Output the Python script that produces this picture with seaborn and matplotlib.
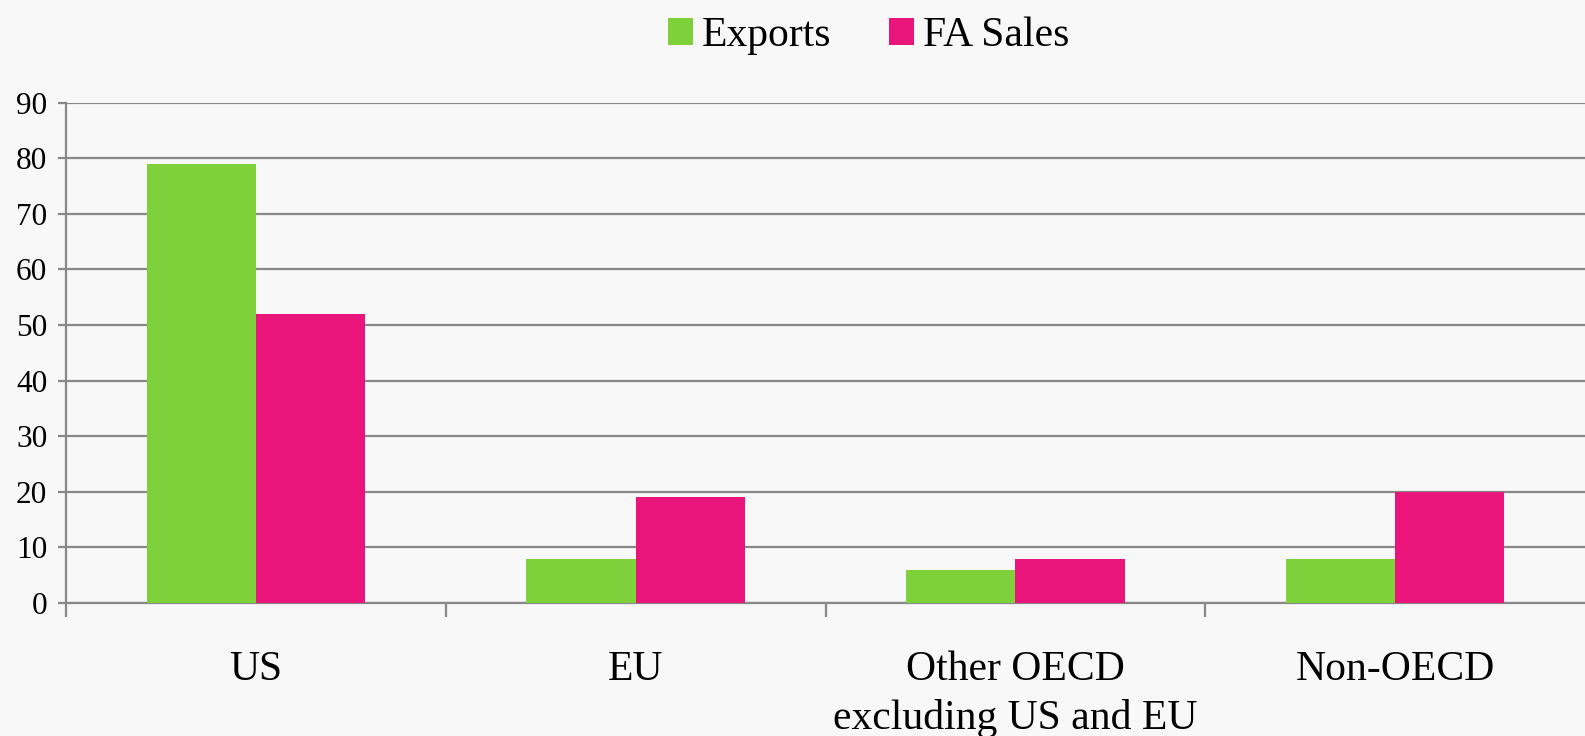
import matplotlib
matplotlib.use("Agg")
import matplotlib.pyplot as plt
from matplotlib.patches import Patch
import seaborn as sns
import pandas as pd

categories = ["US", "EU", "Other OECD\nexcluding US and EU", "Non-OECD"]
exports = [79, 8, 6, 8]
fa_sales = [52, 19, 8, 20]
series_names = ["Exports", "FA Sales"]
colors = ["#7fd13b", "#ea157a"]
yticks = [0, 10, 20, 30, 40, 50, 60, 70, 80, 90]

df = pd.DataFrame({
    "category": categories * 2,
    "value": exports + fa_sales,
    "series": [series_names[0]] * 4 + [series_names[1]] * 4,
})

sns.set_theme(style="white")
plt.rcParams["font.family"] = ["Liberation Serif", "DejaVu Serif"]
plt.rcParams["text.color"] = "black"
plt.rcParams["xtick.color"] = "black"
plt.rcParams["ytick.color"] = "black"

bg = "#f8f8f8"
fig = plt.figure(figsize=(15.85, 7.36), dpi=100, facecolor=bg)
ax = fig.add_axes([66 / 1585, 1 - 603 / 736, 1 - 66 / 1585, (603 - 102.7) / 736])
ax.set_facecolor(bg)

sns.barplot(data=df, x="category", y="value", hue="series", order=categories,
            hue_order=series_names, palette=colors, width=0.575, gap=0,
            saturation=1, linewidth=0, ax=ax, legend=False, zorder=3)

ax.set_ylim(0, 90)
ax.set_xlim(-0.5, 3.5)
ax.set_yticks(yticks)
ax.set_yticklabels([str(v) for v in yticks], fontsize=22.5, color="black")
ax.set_xlabel("")
ax.set_ylabel("")
ax.grid(axis="y", color="#888888", linewidth=1.6, zorder=0)
ax.set_axisbelow(True)

for s in ["top", "right"]:
    ax.spines[s].set_visible(False)
for s in ["left", "bottom"]:
    ax.spines[s].set_color("#888888")
    ax.spines[s].set_linewidth(1.6)

ax.tick_params(axis="y", length=6, width=1.6, color="#888888", pad=7.5, left=True, labelcolor="black")
ax.tick_params(axis="x", which="major", length=0, pad=34, labelsize=30, labelcolor="black")
ax.set_xticks([0.5 + i for i in range(-1, 3)], minor=True)
ax.tick_params(axis="x", which="minor", length=10, width=1.6, color="#888888", bottom=True)
for lbl in ax.get_xticklabels():
    lbl.set_verticalalignment("top")
    lbl.set_linespacing(1.35)

handles = [Patch(facecolor=c, edgecolor="none", label=n) for c, n in zip(colors, series_names)]
leg = fig.legend(handles=handles, loc="upper center", bbox_to_anchor=(0.548, 1.017), ncol=2,
                 frameon=False, fontsize=30, handlelength=0.6, handleheight=0.6,
                 handletextpad=0.2, columnspacing=1.4, borderaxespad=0.3)
for t in leg.get_texts():
    t.set_color("black")

fig.savefig("out.png", dpi=100, facecolor=bg)
